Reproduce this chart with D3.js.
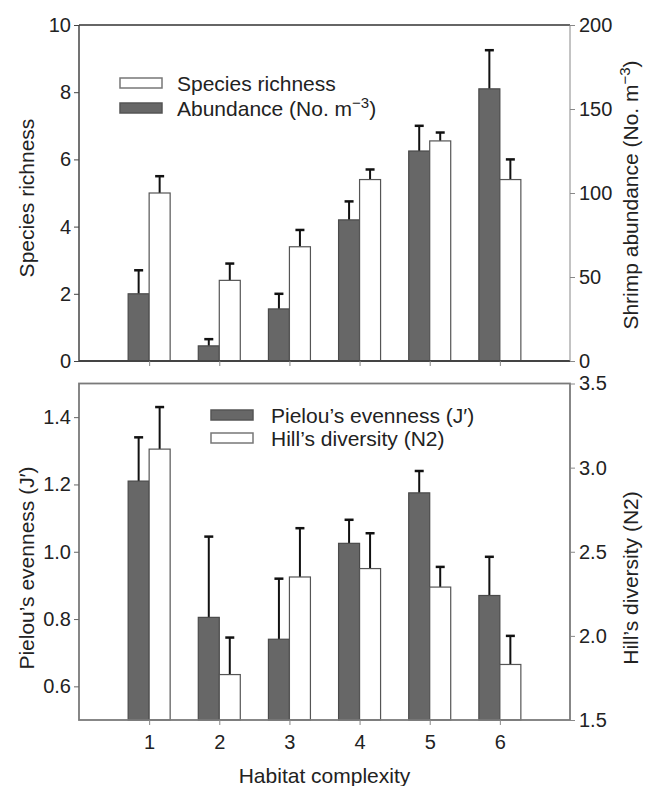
<!DOCTYPE html>
<html>
<head>
<meta charset="utf-8">
<script src="https://cdn.jsdelivr.net/npm/d3@7"></script>
<style>
  body { margin: 0; background: #fff; }
  text { font-family: "Liberation Sans", Arial, sans-serif; fill: #222; }
</style>
</head>
<body>
<script>
// data
var categories = [1, 2, 3, 4, 5, 6];

// top panel
var abundance = [40, 9, 31, 84, 125, 162];       // right axis, No. m-3
var abundanceErr = [14, 4, 9, 11, 15, 23];
var richness = [5.0, 2.4, 3.4, 5.4, 6.55, 5.4];  // left axis
var richnessErr = [0.5, 0.5, 0.5, 0.3, 0.25, 0.6];

// bottom panel
var evenness = [1.21, 0.805, 0.74, 1.025, 1.175, 0.87];   // left axis
var evennessErr = [0.13, 0.24, 0.18, 0.07, 0.065, 0.115];
var hill = [3.11, 1.77, 2.35, 2.40, 2.29, 1.83];          // right axis
var hillErr = [0.25, 0.22, 0.29, 0.21, 0.12, 0.17];

var richTicks = [0, 2, 4, 6, 8, 10];
var abundTicks = [0, 50, 100, 150, 200];
var evenTicks = [0.6, 0.8, 1.0, 1.2, 1.4];
var hillTicks = [1.5, 2.0, 2.5, 3.0, 3.5];

var w = 648, h = 786;
var left = 79, right = 570;
var barW = 21;
var fs = 20, tfs = 21;
var dark = '#676767', darkStroke = '#4a4a4a';

var svg = d3.select('body').append('svg')
    .attr('width', w)
    .attr('height', h);

var x = d3.scaleLinear().domain([0, 7]).range([left, right]);

// top panel scales
var yRich = d3.scaleLinear().domain([0, 10]).range([361, 25]);
var yAbund = d3.scaleLinear().domain([0, 200]).range([361, 25]);
// bottom panel scales
var yEven = d3.scaleLinear().domain([0.5, 1.5]).range([720, 383.5]);
var yHill = d3.scaleLinear().domain([1.5, 3.5]).range([720, 383.5]);

function drawBars(g, vals, errs, y, side, fill, stroke) {
  var off = side < 0 ? -barW : 0;
  g.selectAll(null).data(vals).enter().append('line')
      .attr('x1', (d, i) => x(categories[i]) + off + barW / 2)
      .attr('x2', (d, i) => x(categories[i]) + off + barW / 2)
      .attr('y1', d => y(d))
      .attr('y2', (d, i) => y(d + errs[i]))
      .attr('stroke', '#111').attr('stroke-width', 2);
  g.selectAll(null).data(vals).enter().append('line')
      .attr('x1', (d, i) => x(categories[i]) + off + barW / 2 - 4.5)
      .attr('x2', (d, i) => x(categories[i]) + off + barW / 2 + 4.5)
      .attr('y1', (d, i) => y(d + errs[i]))
      .attr('y2', (d, i) => y(d + errs[i]))
      .attr('stroke', '#111').attr('stroke-width', 2.5);
  g.selectAll(null).data(vals).enter().append('rect')
      .attr('x', (d, i) => x(categories[i]) + off)
      .attr('y', d => y(d))
      .attr('width', barW)
      .attr('height', d => y.range()[0] - y(d))
      .attr('fill', fill)
      .attr('stroke', stroke)
      .attr('stroke-width', 1.2);
}

function styleAxis(g, col) {
  g.select('.domain').remove();
  g.selectAll('.tick line').attr('stroke', col).attr('stroke-width', 1);
  g.selectAll('.tick text').attr('font-size', fs).attr('fill', '#222')
      .attr('font-family', '"Liberation Sans", Arial, sans-serif');
}

// ---------- top panel ----------
var topG = svg.append('g');
drawBars(topG, abundance, abundanceErr, yAbund, -1, dark, darkStroke);
drawBars(topG, richness, richnessErr, yRich, 1, '#fff', '#555');

// frame
topG.append('line').attr('x1', left).attr('x2', right).attr('y1', 25).attr('y2', 25)
    .attr('stroke', '#333').attr('stroke-width', 1.5);
topG.append('line').attr('x1', left).attr('x2', right).attr('y1', 361).attr('y2', 361)
    .attr('stroke', '#444').attr('stroke-width', 1.8);
topG.append('line').attr('x1', left).attr('x2', left).attr('y1', 25).attr('y2', 361)
    .attr('stroke', '#444').attr('stroke-width', 1.5);
topG.append('line').attr('x1', right).attr('x2', right).attr('y1', 25).attr('y2', 361)
    .attr('stroke', '#888').attr('stroke-width', 1);

var axL1 = topG.append('g').attr('transform', 'translate(' + left + ',0)')
    .call(d3.axisLeft(yRich).tickValues(richTicks).tickFormat(d3.format('d')).tickSize(5).tickPadding(3));
styleAxis(axL1, '#444');
var axR1 = topG.append('g').attr('transform', 'translate(' + right + ',0)')
    .call(d3.axisRight(yAbund).tickValues(abundTicks).tickFormat(d3.format('d')).tickSize(5).tickPadding(4));
styleAxis(axR1, '#888');
var axB1 = topG.append('g').attr('transform', 'translate(0,361)')
    .call(d3.axisBottom(x).tickValues(categories).tickFormat('').tickSize(5));
styleAxis(axB1, '#888');

topG.append('text').attr('transform', 'translate(34,198) rotate(-90)')
    .attr('text-anchor', 'middle').attr('font-size', tfs).text('Species richness');

var rt1 = topG.append('text').attr('transform', 'translate(638,195) rotate(-90)')
    .attr('text-anchor', 'middle').attr('font-size', tfs);
rt1.append('tspan').text('Shrimp abundance (No. m');
rt1.append('tspan').attr('dy', -8).attr('font-size', 15).text('\u22123');
rt1.append('tspan').attr('dy', 8).text(')');

// legend
topG.append('rect').attr('x', 120).attr('y', 78).attr('width', 42).attr('height', 10)
    .attr('fill', '#fff').attr('stroke', '#777').attr('stroke-width', 1.5);
topG.append('rect').attr('x', 120).attr('y', 103).attr('width', 42).attr('height', 10)
    .attr('fill', dark).attr('stroke', '#555').attr('stroke-width', 1.5);
topG.append('text').attr('x', 177).attr('y', 90.5).attr('font-size', tfs).text('Species richness');
var lg = topG.append('text').attr('x', 177).attr('y', 115.5).attr('font-size', tfs);
lg.append('tspan').text('Abundance (No. m');
lg.append('tspan').attr('dy', -8).attr('font-size', 15).text('\u22123');
lg.append('tspan').attr('dy', 8).text(')');

// ---------- bottom panel ----------
var botG = svg.append('g');
drawBars(botG, evenness, evennessErr, yEven, -1, dark, darkStroke);
drawBars(botG, hill, hillErr, yHill, 1, '#fff', '#555');

botG.append('rect').attr('x', left).attr('y', 383.5).attr('width', right - left).attr('height', 720 - 383.5)
    .attr('fill', 'none').attr('stroke', '#7a7a7a').attr('stroke-width', 1.8);

var axL2 = botG.append('g').attr('transform', 'translate(' + left + ',0)')
    .call(d3.axisLeft(yEven).tickValues(evenTicks).tickFormat(d3.format('.1f')).tickSize(5).tickPadding(3));
styleAxis(axL2, '#666');
var axR2 = botG.append('g').attr('transform', 'translate(' + right + ',0)')
    .call(d3.axisRight(yHill).tickValues(hillTicks).tickFormat(d3.format('.1f')).tickSize(5).tickPadding(4));
styleAxis(axR2, '#888');
var axB2 = botG.append('g').attr('transform', 'translate(0,720)')
    .call(d3.axisBottom(x).tickValues(categories).tickFormat(d3.format('d')).tickSize(5).tickPadding(10));
styleAxis(axB2, '#888');

botG.append('text').attr('transform', 'translate(34,568) rotate(-90)')
    .attr('text-anchor', 'middle').attr('font-size', tfs).text('Pielou\u2019s evenness (J\u2032)');
botG.append('text').attr('transform', 'translate(638,578) rotate(-90)')
    .attr('text-anchor', 'middle').attr('font-size', tfs).text('Hill\u2019s diversity (N2)');
botG.append('text').attr('x', (left + right) / 2).attr('y', 783)
    .attr('text-anchor', 'middle').attr('font-size', tfs).text('Habitat complexity');

// legend
botG.append('rect').attr('x', 211).attr('y', 410).attr('width', 42).attr('height', 10)
    .attr('fill', dark).attr('stroke', '#555').attr('stroke-width', 1.5);
botG.append('rect').attr('x', 211).attr('y', 433).attr('width', 42).attr('height', 10)
    .attr('fill', '#fff').attr('stroke', '#777').attr('stroke-width', 1.5);
botG.append('text').attr('x', 271).attr('y', 422.5).attr('font-size', tfs).text('Pielou\u2019s evenness (J\u2032)');
botG.append('text').attr('x', 271).attr('y', 445.5).attr('font-size', tfs).text('Hill\u2019s diversity (N2)');
</script>
</body>
</html>
